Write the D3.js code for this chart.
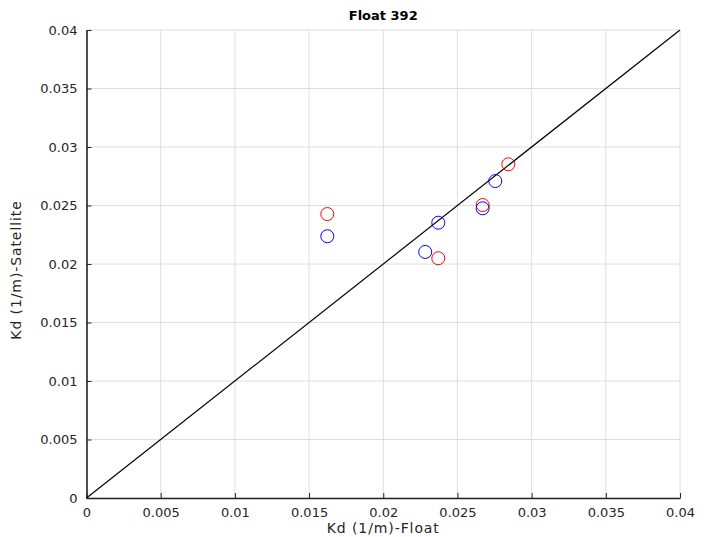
<!DOCTYPE html>
<html><head><meta charset="utf-8">
<script src="https://cdn.jsdelivr.net/npm/d3@7"></script>
<style>body{margin:0;background:#fff}svg{display:block}text{font-family:"DejaVu Sans",sans-serif;}</style>
</head><body>
<svg id="c" width="712" height="537"></svg>
<script>
const title = "Float 392";
const xLabel = "Kd (1/m)-Float";
const yLabel = "Kd (1/m)-Satellite";
const tickValues = [0,0.005,0.01,0.015,0.02,0.025,0.03,0.035,0.04];
const tickLabels = ["0","0.005","0.01","0.015","0.02","0.025","0.03","0.035","0.04"];
const blueX = [0.01623,0.02371,0.02283,0.02670,0.02755];
const blueY = [0.02237,0.02353,0.02103,0.02476,0.02709];
const redX  = [0.01623,0.02371,0.02670,0.02843];
const redY  = [0.02427,0.02049,0.02504,0.02852];
const lineX = [0,0.04];
const lineY = [0,0.04];

const svg = d3.select("#c");
const L=86.5, R=680, T=30, B=498;
const x = d3.scaleLinear().domain([0,0.04]).range([L,R]);
const y = d3.scaleLinear().domain([0,0.04]).range([B,T]);
const grid = svg.append("g");
tickValues.forEach(v=>{
  grid.append("line").attr("x1",x(v)).attr("x2",x(v)).attr("y1",T).attr("y2",B).attr("stroke","#dedede").attr("stroke-width",1);
  grid.append("line").attr("y1",y(v)).attr("y2",y(v)).attr("x1",L).attr("x2",R).attr("stroke","#dedede").attr("stroke-width",1);
});
const fmt = v=>tickLabels[tickValues.indexOf(v)];
const xa = svg.append("g").attr("transform",`translate(0,${B})`)
  .call(d3.axisBottom(x).tickValues(tickValues).tickFormat(fmt).tickSizeInner(-5).tickSizeOuter(0).tickPadding(10));
const ya = svg.append("g").attr("transform",`translate(${L},0)`)
  .call(d3.axisLeft(y).tickValues(tickValues).tickFormat(fmt).tickSizeInner(-5).tickSizeOuter(0).tickPadding(9));
[xa,ya].forEach(a=>{
  a.select(".domain").attr("stroke","#262626").attr("stroke-width",1.6);
  a.selectAll(".tick line").attr("stroke","#262626").attr("stroke-width",1);
  a.selectAll("text").attr("fill","#262626").style("font-size","13px").style("font-family","DejaVu Sans");
});
const line = d3.line().x(d=>x(d[0])).y(d=>y(d[1]));
svg.append("path").datum(lineX.map((v,i)=>[v,lineY[i]])).attr("d",line).attr("stroke","#000").attr("stroke-width",1.2).attr("fill","none");
svg.append("g").selectAll("circle").data(redX.map((v,i)=>[v,redY[i]])).join("circle")
  .attr("cx",d=>x(d[0])).attr("cy",d=>y(d[1])).attr("r",6.5).attr("fill","none").attr("stroke","#ff0000").attr("stroke-width",1);
svg.append("g").selectAll("circle").data(blueX.map((v,i)=>[v,blueY[i]])).join("circle")
  .attr("cx",d=>x(d[0])).attr("cy",d=>y(d[1])).attr("r",6.5).attr("fill","none").attr("stroke","#0000ff").attr("stroke-width",1);
svg.append("text").attr("x",(L+R)/2).attr("y",20).attr("text-anchor","middle").style("font-size","13px").style("font-weight","bold").attr("fill","#000").text(title);
svg.append("text").attr("x",(L+R)/2).attr("y",533).attr("text-anchor","middle").style("font-size","14px").style("letter-spacing","0.9px").attr("fill","#262626").text(xLabel);
svg.append("text").attr("transform",`translate(21,${(T+B)/2+6}) rotate(-90)`).attr("text-anchor","middle").style("font-size","14px").style("letter-spacing","0.9px").attr("fill","#262626").text(yLabel);
</script>
</body></html>
